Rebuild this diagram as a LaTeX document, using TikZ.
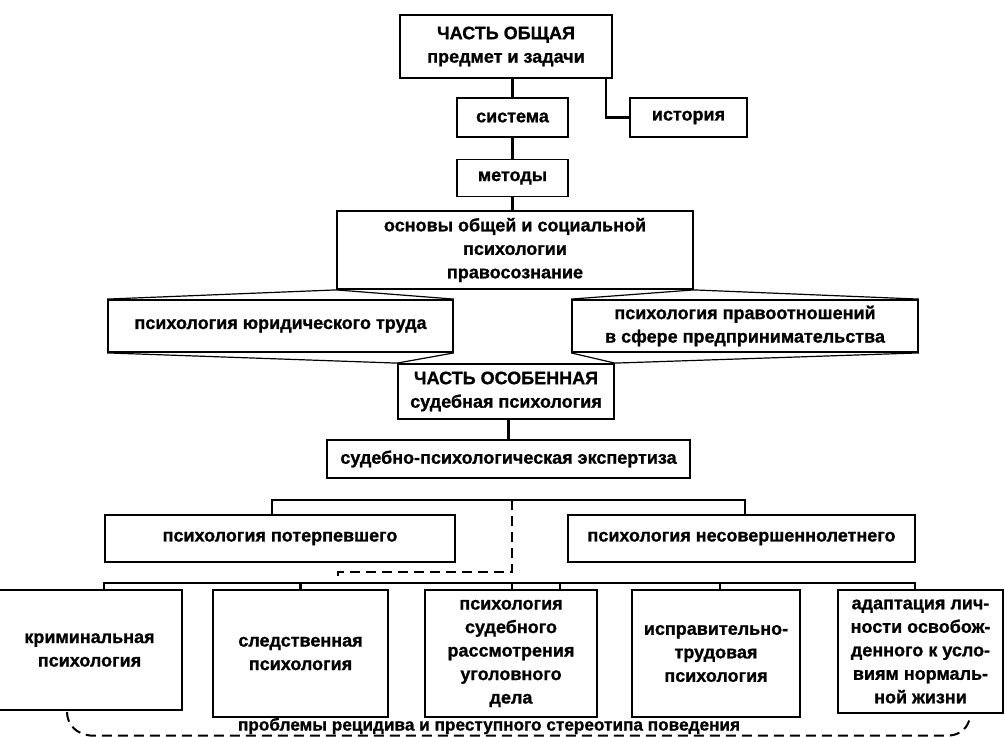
\documentclass[tikz,border=0pt]{standalone}
\usepackage{fontspec}
\setmainfont{Liberation Sans}[BoldFeatures={FakeBold=1}]
\begin{document}
\begin{tikzpicture}[x=1pt,y=-1pt,
  box/.style={draw,line width=1.8pt,rectangle,align=center,inner sep=2pt,
    font=\fontsize{18}{23.5}\selectfont\bfseries},
  link/.style={line width=2.2pt},
  fan/.style={line width=1.2pt},
  dline/.style={line width=2pt,dash pattern=on 10pt off 6pt}]
\useasboundingbox (0,0) rectangle (1005,737);
\node[box,minimum width=212,minimum height=63] (obsh) at (506,46.5) {ЧАСТЬ ОБЩАЯ\\предмет и задачи};
\node[box,minimum width=111,minimum height=39] (sist) at (512.5,117.5) {система};
\node[box,minimum width=117,minimum height=39] (ist) at (688.5,117.5) {история};
\node[box,minimum width=111,minimum height=37] (metody) at (512.5,178) {методы};
\node[box,minimum width=356,minimum height=78] (osnovy) at (515,250) {основы общей и социальной\\психологии\\правосознание};
\node[box,minimum width=345,minimum height=52] (trud) at (280.5,326) {психология юридического труда};
\node[box,minimum width=346,minimum height=52] (pravo) at (745,326) {психология правоотношений\\в сфере предпринимательства};
\node[box,minimum width=216,minimum height=55] (osob) at (506,391.5) {ЧАСТЬ ОСОБЕННАЯ\\судебная психология};
\node[box,minimum width=363,minimum height=38] (eksp) at (508.5,459) {судебно-психологическая экспертиза};
\node[box,minimum width=350,minimum height=47] (poterp) at (280,538.5) {психология потерпевшего};
\node[box,minimum width=347,minimum height=47] (nesov) at (741.5,538.5) {психология несовершеннолетнего};
\node[box,minimum width=185,minimum height=120] (krim) at (89.5,650) {криминальная\\психология};
\node[box,minimum width=175,minimum height=127] (sled) at (300.5,653.5) {следственная\\психология};
\node[box,minimum width=172,minimum height=127] (sud) at (511,653.5) {психология\\судебного\\рассмотрения\\уголовного\\дела};
\node[box,minimum width=168,minimum height=127] (ispr) at (716,653.5) {исправительно-\\трудовая\\психология};
\node[box,minimum width=165,minimum height=123] (adapt) at (920.5,651.5) {адаптация лич-\\ности освобож-\\денного к усло-\\виям нормаль-\\ной жизни};
\node[font=\fontsize{17.2}{22}\selectfont\bfseries,inner sep=0pt] (recid) at (489,726) {проблемы рецидива и преступного стереотипа поведения};
% upper part
\draw[link] (sist.north) -- (sist.north |- obsh.south);
\draw[link] (ist.west) -| ([xshift=-7pt]obsh.south east);
\draw[link] (sist) -- (metody);
\draw[link] (metody.south) -- (metody.south |- osnovy.north);
\draw[fan] (trud.north west) -- (osnovy.south west) -- (trud.north east);
\draw[fan] (pravo.north west) -- (osnovy.south east) -- (pravo.north east);
\draw[fan] (trud.south west) -- (osob.north west) -- (trud.south east);
\draw[fan] (pravo.south west) -- (osob.north east) -- (pravo.south east);
\draw[link] (osob.south -| eksp) -- (eksp.north);
% lower part
\coordinate (busL) at (272,500);
\coordinate (busR) at (745,500);
\coordinate (dtop) at (512,500);
\coordinate (dlow) at (338,572);
\coordinate (bbusL) at (104,583);
\coordinate (bbusR) at (915,583);
\draw[link] (busL |- poterp.north) -- (busL) -- (busR) -- (busR |- nesov.north);
\draw[link] (bbusL |- krim.north) -- (bbusL) -- (bbusR) -- (bbusR |- adapt.north);
\draw[link] (bbusL -| sled) -- (sled.north);
\draw[link] ([xshift=1pt]bbusL -| sud) -- ([xshift=1pt]sud.north);
\draw[link] ([xshift=49pt]bbusL -| sud) -- ([xshift=49pt]sud.north);
\draw[link] ([xshift=4pt]bbusL -| ispr) -- ([xshift=4pt]ispr.north);
\draw[dline] (dtop) |- (dlow) -- (dlow |- bbusL);
\coordinate (qL) at (67,712);
\coordinate (qR) at (970,716);
\draw[dline] (qL) to[out=-90,in=175] (90,735.5) -- (950,735.5) to[out=5,in=-95] (qR);
\end{tikzpicture}
\end{document}
